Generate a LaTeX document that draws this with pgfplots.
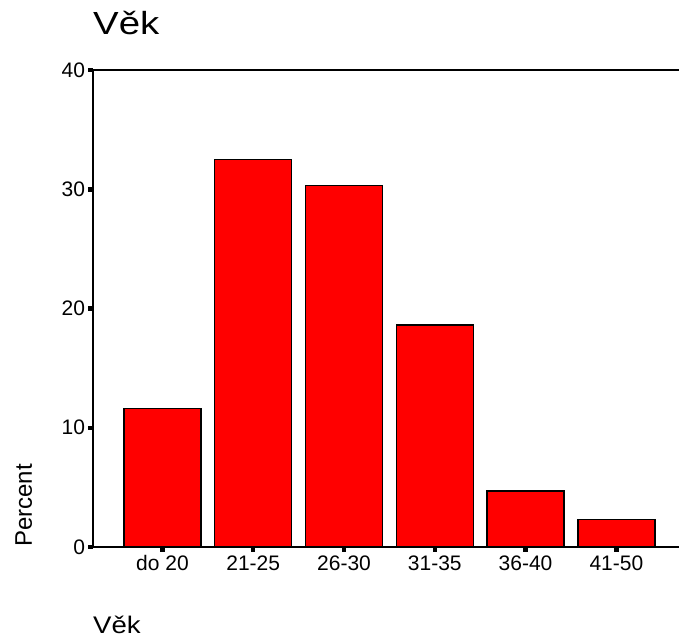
\documentclass[border=0pt]{standalone}
\usepackage{pgfplots}
\pgfplotsset{compat=1.18}
\usepackage{fontspec}
\setmainfont{Liberation Sans}
\definecolor{barred}{RGB}{255,0,0}
\begin{document}
\begin{tikzpicture}
% image frame: axis box sits at (93,90)-(679,567) px of a 679x637 picture
\path[use as bounding box] (-93pt,-90pt) rectangle (586pt,547pt);
\begin{axis}[
  scale only axis, width=586pt, height=477pt,
  at={(0,0)}, anchor=south west,
  xmin=-0.765, xmax=5.69, ymin=0, ymax=40,
  axis x line*=bottom, axis y line*=left,
  x axis line style={line width=1.5pt},
  y axis line style={line width=2pt},
  clip=false,
  xtick={0,1,2,3,4,5},
  xticklabels={do 20,21-25,26-30,31-35,36-40,41-50},
  ytick={0,10,20,30,40},
  tick align=outside, major tick length=4.5pt,
  tick style={line width=4.5pt, black},
  /pgf/number format/assume math mode=true,
  ticklabel style={font=\fontsize{21}{25}\selectfont},
  xticklabel style={text height=15pt, text depth=0pt},
  title={\scalebox{1.2}[1]{Věk}},
  title style={at={(axis description cs:0,1.0608)}, anchor=base west,
    inner sep=0pt, font=\fontsize{32}{38}\selectfont},
  xlabel={\scalebox{1.15}[1]{Věk}},
  xlabel style={at={(axis description cs:0,-0.181)}, anchor=base west,
    inner sep=0pt, font=\fontsize{24}{29}\selectfont},
  ylabel={Percent},
  ylabel style={at={(axis description cs:-0.1041,0)}, anchor=base west,
    inner sep=0pt, font=\fontsize{24}{29}\selectfont},
]
\addplot[ybar, bar width=0.848, fill=barred, draw=black, line width=1.5pt]
  coordinates {(0,11.6) (1,32.5) (2,30.3) (3,18.6) (4,4.7) (5,2.3)};
\draw[line width=2pt] (rel axis cs:0,1) -- (rel axis cs:1,1);
\end{axis}
\end{tikzpicture}
\end{document}
